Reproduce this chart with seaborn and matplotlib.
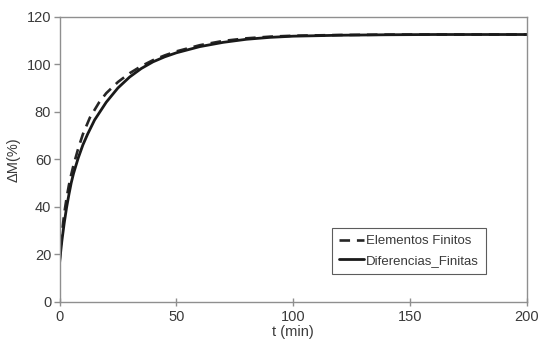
import matplotlib
matplotlib.use("Agg")
import matplotlib.pyplot as plt
import seaborn as sns
import pandas as pd

t_fe = [0, 0.5, 1, 2, 3, 4, 5, 6, 8, 10, 13, 17, 20, 25, 30, 35, 40, 45, 50, 60, 70, 80, 90, 100, 120, 140, 160, 180, 200]
m_fe = [16.5, 23, 28.5, 37, 43.5, 49, 53.5, 57.5, 64.5, 70.5, 77.5, 84, 87.8, 92.5, 96.2, 99.2, 101.7, 103.7, 105.4, 108, 109.8, 110.9, 111.6, 112.0, 112.3, 112.45, 112.5, 112.5, 112.5]

t_fd = [0, 0.5, 1, 2, 3, 4, 5, 6, 8, 10, 12, 15, 20, 25, 30, 35, 40, 45, 50, 60, 70, 80, 90, 100, 120, 140, 160, 180, 200]
m_fd = [16, 21, 25.5, 33, 39.5, 45, 50, 54, 60.5, 66, 70.5, 76.5, 84, 90, 94.6, 98.2, 101, 103.1, 104.8, 107.4, 109.2, 110.5, 111.3, 111.8, 112.2, 112.4, 112.5, 112.5, 112.5]

labels = ["Elementos Finitos", "Diferencias_Finitas"]
x_ticks = [0, 50, 100, 150, 200]
y_ticks = [0, 20, 40, 60, 80, 100, 120]

sns.set_theme(style="white")
plt.rcParams['font.family'] = ['Liberation Sans', 'DejaVu Sans']

fig = plt.figure(figsize=(5.39, 3.51), dpi=100)
ax = fig.add_axes([0.1104, 0.1405, 0.8673, 0.8119])

df_fe = pd.DataFrame({"t": t_fe, "M": m_fe})
df_fd = pd.DataFrame({"t": t_fd, "M": m_fd})

sns.lineplot(data=df_fe, x="t", y="M", ax=ax, color="#262626", linewidth=1.9,
             label=labels[0])
ax.lines[-1].set_dashes([4, 2.6])
sns.lineplot(data=df_fd, x="t", y="M", ax=ax, color="#1a1a1a", linewidth=2.0,
             label=labels[1])

ax.set_xlim(0, 200)
ax.set_ylim(0, 120)
ax.set_xticks(x_ticks)
ax.set_yticks(y_ticks)

frame_c = "#8f8f8f"
for s in ax.spines.values():
    s.set_color(frame_c)
    s.set_linewidth(1.0)
    s.set_visible(True)

txt_c = "#3a3a3a"
ax.tick_params(axis="y", direction="out", length=4, width=1, color=frame_c,
               labelsize=10.5, labelcolor=txt_c, pad=2, left=True)
ax.tick_params(axis="x", direction="inout", length=6, width=1, color=frame_c,
               labelsize=10.5, labelcolor=txt_c, pad=3, bottom=True)

ax.set_xlabel("t (min)", fontsize=10.5, color=txt_c, labelpad=1)
ax.set_ylabel("ΔM(%)", fontsize=10.5, color=txt_c, labelpad=4)

leg = ax.legend(loc="upper right", bbox_to_anchor=(0.912, 0.259), borderaxespad=0,
                frameon=True, fancybox=False, fontsize=9.5, handlelength=1.9,
                handletextpad=0.1, borderpad=0.55, labelspacing=0.55)
leg.get_frame().set_edgecolor("#333333")
leg.get_frame().set_linewidth(0.8)
for txt in leg.get_texts():
    txt.set_color(txt_c)

fig.savefig("out.png", dpi=100)
